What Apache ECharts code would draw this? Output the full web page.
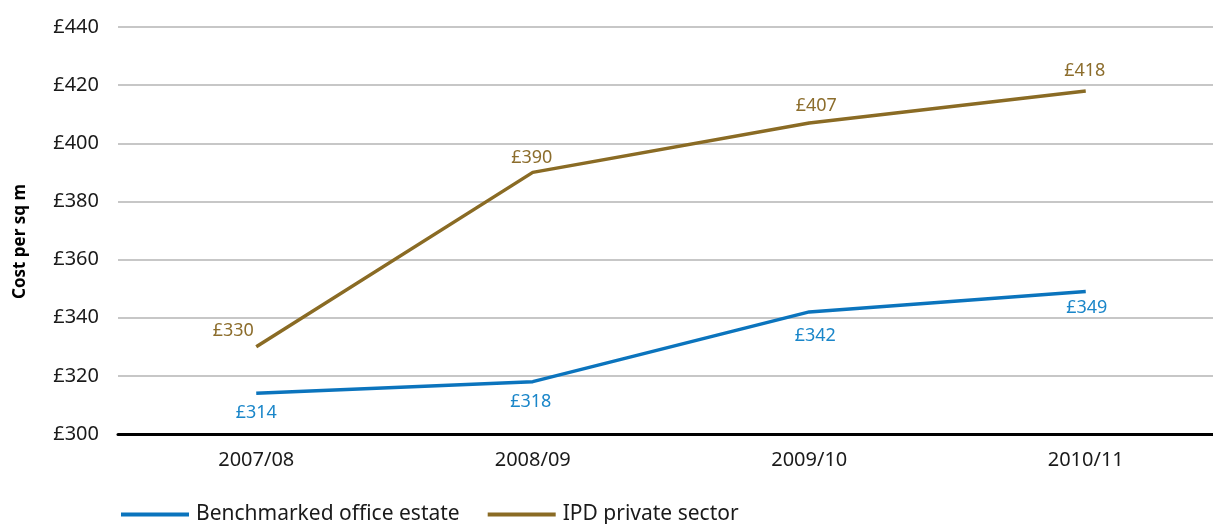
<!DOCTYPE html>
<html>
<head>
<meta charset="utf-8">
<script src="https://cdn.jsdelivr.net/npm/echarts@6/dist/echarts.min.js"></script>
<style>
  html, body { margin: 0; padding: 0; background: #fff; }
  #chart { width: 1213px; height: 524px; }
</style>
</head>
<body>
<div id="chart"></div>
<script>
// Cost per square metre, two series across four financial years
const years = ['2007/08', '2008/09', '2009/10', '2010/11'];
const benchmarked = [314, 318, 342, 349];
const ipdPrivate = [330, 390, 407, 418];
const seriesNames = ['Benchmarked office estate', 'IPD private sector'];

const FONT = '"Noto Sans", "Open Sans", sans-serif';
const BLUE = '#0b74bd';
const BLUE_TEXT = '#1a86c9';
const GOLD = '#8a6b24';
const GOLD_TEXT = '#8c6d2c';

// small per-point nudges for the value labels, [dx, dy]
const blueLabelNudge = [[0, 0], [-2, 0], [6, 4], [1, -3.5]];
const goldLabelNudge = [[-23, -1], [-1, 1], [7, -2.5], [-1, -5.5]];

const money = p => '£' + p.value;

const chart = echarts.init(document.getElementById('chart'));
chart.setOption({
  animation: false,
  textStyle: { fontFamily: FONT },
  grid: { left: 118, width: 1106, top: 27, bottom: 90, containLabel: false, outerBoundsMode: 'none' },
  legend: {
    left: 116, top: 499,
    itemWidth: 68, itemHeight: 4, itemGap: 28,
    icon: 'rect',
    textStyle: { fontFamily: FONT, fontSize: 21, color: '#1a1a1a', padding: [0, 0, 0, 2] },
    data: seriesNames
  },
  xAxis: {
    type: 'category',
    data: years,
    boundaryGap: true,
    axisLine: { lineStyle: { color: '#000', width: 3 } },
    axisTick: { show: false },
    axisLabel: { color: '#1a1a1a', fontSize: 20, margin: 16, fontFamily: FONT }
  },
  yAxis: {
    type: 'value',
    min: 300, max: 440, interval: 20,
    name: 'Cost per sq m',
    nameLocation: 'middle',
    nameGap: 89,
    nameTextStyle: { fontSize: 17, fontWeight: 'bold', color: '#000', fontFamily: FONT, padding: [0, 22, 0, 0] },
    axisLine: { show: false },
    axisTick: { show: false },
    splitLine: { lineStyle: { color: '#b5b5b5', width: 1.5 } },
    axisLabel: {
      color: '#1a1a1a', fontSize: 20, margin: 19, fontFamily: FONT,
      formatter: v => '£' + v
    }
  },
  series: [
    {
      name: seriesNames[0],
      type: 'line',
      data: benchmarked,
      symbol: 'circle',
      symbolSize: 0,
      lineStyle: { color: BLUE, width: 3.5 },
      itemStyle: { color: BLUE },
      label: {
        show: true, position: 'bottom', distance: 11,
        color: BLUE_TEXT, fontSize: 18, fontFamily: FONT,
        formatter: money
      },
      labelLayout: p => ({ dx: blueLabelNudge[p.dataIndex][0], dy: blueLabelNudge[p.dataIndex][1] })
    },
    {
      name: seriesNames[1],
      type: 'line',
      data: ipdPrivate,
      symbol: 'circle',
      symbolSize: 0,
      lineStyle: { color: GOLD, width: 3.5 },
      itemStyle: { color: GOLD },
      label: {
        show: true, position: 'top', distance: 6,
        color: GOLD_TEXT, fontSize: 18, fontFamily: FONT,
        formatter: money
      },
      labelLayout: p => ({ dx: goldLabelNudge[p.dataIndex][0], dy: goldLabelNudge[p.dataIndex][1] })
    }
  ]
});
</script>
</body>
</html>
